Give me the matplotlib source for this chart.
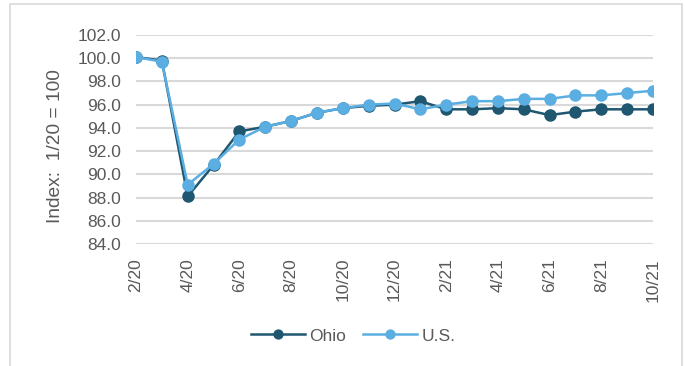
import matplotlib.pyplot as plt
from matplotlib.patches import Rectangle

months = ['2/20', '3/20', '4/20', '5/20', '6/20', '7/20', '8/20', '9/20', '10/20',
          '11/20', '12/20', '1/21', '2/21', '3/21', '4/21', '5/21', '6/21', '7/21',
          '8/21', '9/21', '10/21']
ohio = [100.1, 99.8, 88.1, 90.8, 93.7, 94.1, 94.6, 95.3, 95.7, 95.9, 96.0,
        96.3, 95.6, 95.6, 95.7, 95.6, 95.1, 95.4, 95.6, 95.6, 95.6]
us = [100.1, 99.7, 89.1, 90.9, 93.0, 94.1, 94.6, 95.3, 95.7, 96.0, 96.1,
      95.6, 96.0, 96.3, 96.3, 96.5, 96.5, 96.8, 96.8, 97.0, 97.2]

OHIO_COL = '#1F5670'
US_COL = '#5AAEE2'
TXT = '#595959'
FS = 12.5

plt.rcParams['font.family'] = ['Liberation Sans', 'DejaVu Sans']

fig = plt.figure(figsize=(6.85, 3.66), dpi=100)
ax = fig.add_axes([136/685, 1 - 244/366, (653-136)/685, (244-35)/366])

x = list(range(len(months)))
ax.plot(x, ohio, '-o', color=OHIO_COL, lw=1.8, markersize=8, label='Ohio', zorder=3)
ax.plot(x, us, '-o', color=US_COL, lw=1.8, markersize=8, label='U.S.', zorder=4)

ax.set_ylim(84, 102)
ax.set_yticks(range(84, 103, 2))
ax.set_yticklabels([f'{v:.1f}' for v in range(84, 103, 2)])
ax.set_xlim(0, len(months) - 1)
ax.set_xticks(x[::2])
ax.set_xticklabels(months[::2], rotation=90)
ax.grid(axis='y', color='#D9D9D9', lw=1.5)
ax.set_axisbelow(True)
for s in ax.spines.values():
    s.set_visible(False)
ax.tick_params(length=0, colors=TXT, labelsize=FS)
ax.tick_params(axis='y', pad=11)
ax.tick_params(axis='x', pad=10)
ax.set_ylabel('Index:  1/20 = 100', color=TXT, fontsize=13.8)
ax.yaxis.set_label_coords((64 - 136) / 517, (244 - 146) / 209)

leg = ax.legend(loc='center', bbox_to_anchor=((353 - 136) / 517, -0.44), ncol=2,
                frameon=False, fontsize=FS, handlelength=3.1, columnspacing=1.0,
                handletextpad=0.25, markerscale=0.8)
for t in leg.get_texts():
    t.set_color(TXT)

fig.patches.append(Rectangle((10/685, -0.1), (682-10)/685, 1.09, transform=fig.transFigure,
                             fill=False, edgecolor='#D9D9D9', lw=1.2))

fig.savefig('out.png', dpi=100)
